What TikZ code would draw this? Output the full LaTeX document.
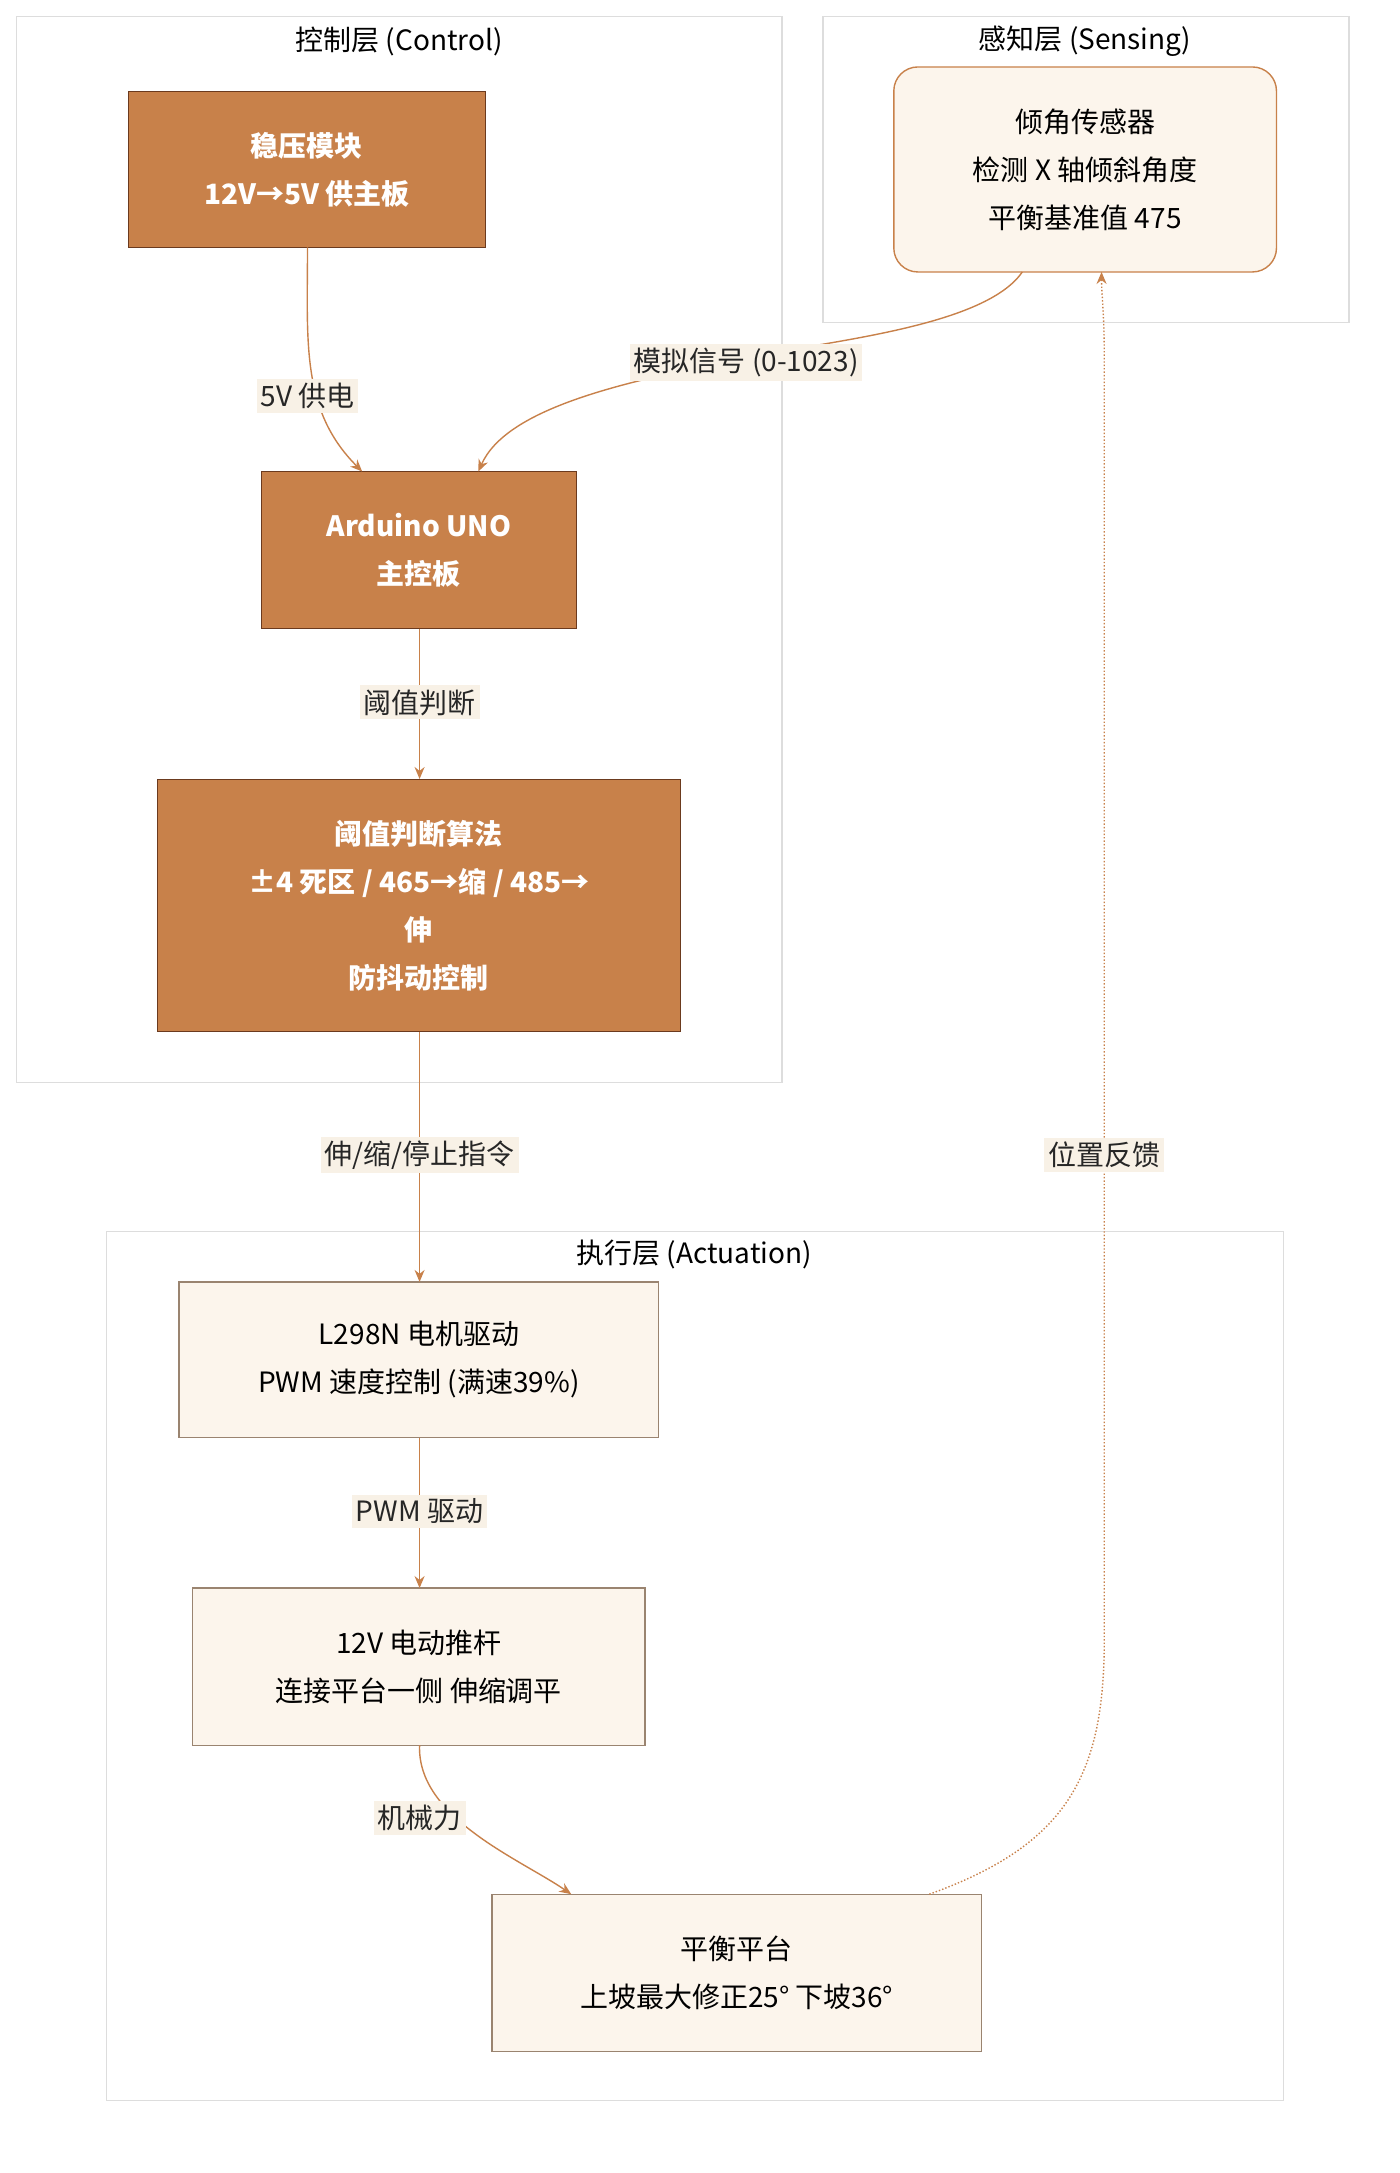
\documentclass[tikz,border=0pt]{standalone}
\usepackage{fontspec}
\setmainfont{Noto Sans CJK SC}
\usetikzlibrary{arrows.meta}
\definecolor{dark}{HTML}{C8814A}
\definecolor{darkb}{HTML}{6B3A1E}
\definecolor{light}{HTML}{FCF5EC}
\definecolor{lightb}{HTML}{9A8470}
\definecolor{edge}{HTML}{C8814A}
\definecolor{frame}{HTML}{DDDDDD}
\definecolor{lblbg}{HTML}{F8F1E6}
\begin{document}
\begin{tikzpicture}[x=0.6836pt,y=-0.6836pt,
  font=\fontsize{14}{22}\selectfont,
  darkbox/.style={draw=darkb,fill=dark,text=white,font=\fontsize{14}{24}\selectfont\bfseries,align=center},
  lightbox/.style={draw=lightb,fill=light,text=black!85,align=center,line width=0.6pt},
  frm/.style={draw=frame,line width=0.8pt},
  conn/.style={draw=edge,line width=0.7pt,-{Stealth[length=6pt,width=5pt]}},
  lbl/.style={fill=lblbg,inner sep=2pt,text=black!85}]
\useasboundingbox (0,0) rectangle (1024,1590);
\fill[white] (0,0) rectangle (1024,1590);
% frames
\draw[frm] (12,12) rectangle (572,792);
\node (tc) at (292,30) {控制层 (Control)};
\draw[frm] (602,12) rectangle (987,236);
\node (ts) at (794,30) {感知层 (Sensing)};
\draw[frm] (78,901) rectangle (939,1537);
\node (ta) at (508,918) {执行层 (Actuation)};
% nodes
\path[darkbox] (94,67) rectangle (355,181);
\node[text=white,font=\fontsize{14}{24}\selectfont\bfseries,align=center] (pw) at (224.5,124) {稳压模块\\12V→5V 供主板};
\path[darkbox] (191,345) rectangle (422,460);
\node[text=white,font=\fontsize{14}{24}\selectfont\bfseries,align=center] (ard) at (306.5,402.5) {Arduino UNO\\主控板};
\path[darkbox] (115,570) rectangle (498,755);
\node[text=white,font=\fontsize{14}{24}\selectfont\bfseries,align=center] (alg) at (306.5,662.5) {阈值判断算法\\±4 死区 / 465→缩 / 485→\\伸\\防抖动控制};
\path[draw=edge,fill=light,rounded corners=12pt,line width=0.7pt] (654,49) rectangle (934,199);
\node[align=center,font=\fontsize{14}{24}\selectfont] (sen) at (794,124) {倾角传感器\\检测 X 轴倾斜角度\\平衡基准值 475};
\path[lightbox] (131,938) rectangle (482,1052);
\node[align=center,font=\fontsize{14}{24}\selectfont] (drv) at (306.5,995) {L298N 电机驱动\\PWM 速度控制 (满速39\%)};
\path[lightbox] (141,1162) rectangle (472,1277);
\node[align=center,font=\fontsize{14}{24}\selectfont] (act) at (306.5,1219.5) {12V 电动推杆\\连接平台一侧 伸缩调平};
\path[lightbox] (360,1386) rectangle (718,1501);
\node[align=center,font=\fontsize{14}{24}\selectfont] (plt) at (539,1443.5) {平衡平台\\上坡最大修正25° 下坡36°};
% anchor coordinates
\coordinate (pwb) at (225,181);
\coordinate (ardt1) at (265,345);
\coordinate (ardt2) at (350,345);
\coordinate (senb) at (748,199);
\coordinate (senb2) at (806,199);
\coordinate (ardb) at (307,460);
\coordinate (algt) at (307,570);
\coordinate (algb) at (307,755);
\coordinate (drvt) at (307,938);
\coordinate (drvb) at (307,1052);
\coordinate (actt) at (307,1162);
\coordinate (actb) at (307,1277);
\coordinate (pltt) at (418,1386);
\coordinate (pltt2) at (680,1386);
% edges
\draw[conn] (pwb) .. controls (225,250) and (220,300) .. (ardt1);
\node[lbl] (l1) at (225,290) {5V 供电};
\draw[conn] (senb) .. controls (720,240) and (600,250) .. (546,262) .. controls (450,280) and (370,300) .. (ardt2);
\node[lbl] (l2) at (546,265) {模拟信号 (0-1023)};
\draw[conn] (ardb) -- (algt);
\node[lbl] (l3) at (307,514) {阈值判断};
\draw[conn] (algb) -- (drvt);
\node[lbl] (l4) at (307,845) {伸/缩/停止指令};
\draw[conn] (drvb) -- (actt);
\node[lbl] (l5) at (307,1106) {PWM 驱动};
\draw[conn] (actb) .. controls (305,1330) and (380,1360) .. (pltt);
\node[lbl] (l6) at (307,1330) {机械力};
\draw[conn,densely dotted] (pltt2) .. controls (780,1350) and (808,1300) .. (808,1200) -- (808,260) .. controls (808,230) and (806,215) .. (senb2);
\node[lbl] (l7) at (808,845) {位置反馈};
\end{tikzpicture}
\end{document}
